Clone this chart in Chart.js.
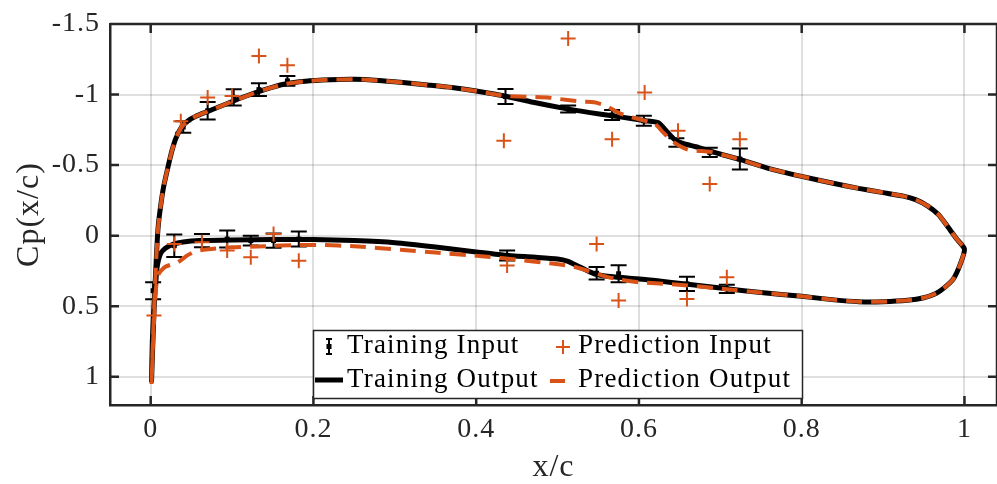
<!doctype html>
<html lang="en">
<head>
<meta charset="utf-8">
<title>Cp(x/c)</title>
<script src="https://cdn.jsdelivr.net/npm/chart.js"></script>
<style>
  html, body { margin: 0; padding: 0; background: #fff; }
</style>
</head>
<body>
<canvas id="cp_canvas" width="997" height="484"></canvas>
<script>
// axis ticks
const xTicks = [0, 0.2, 0.4, 0.6, 0.8, 1];
const xTickLabels = ['0', '0.2', '0.4', '0.6', '0.8', '1'];
const yTicks = [-1.5, -1, -0.5, 0, 0.5, 1];
const yTickLabels = ['-1.5', '-1', '-0.5', '0', '0.5', '1'];

// training output: leading edge -> upper surface -> trailing edge -> lower surface -> leading edge
const trainOutX = [0.001, 0.003, 0.005, 0.007, 0.009, 0.012, 0.016, 0.021, 0.026, 0.031, 0.038, 0.046, 0.055, 0.07, 0.085,
  0.102, 0.12, 0.14, 0.165, 0.19, 0.22, 0.25, 0.28, 0.31, 0.34, 0.37, 0.4, 0.435, 0.47, 0.51, 0.54, 0.567, 0.59, 0.607,
  0.624, 0.634, 0.644, 0.656, 0.67, 0.687, 0.705, 0.724, 0.76, 0.8, 0.84, 0.87, 0.9, 0.925, 0.94, 0.955, 0.968, 0.98, 0.99, 1.0,
  0.995, 0.986, 0.975, 0.965, 0.95, 0.93, 0.9, 0.87, 0.84, 0.8, 0.75, 0.708, 0.66, 0.62, 0.597, 0.565, 0.545, 0.527, 0.512,
  0.5, 0.47, 0.435, 0.4, 0.35, 0.3, 0.25, 0.2, 0.15, 0.1, 0.06, 0.04, 0.028, 0.018, 0.012, 0.008, 0.006, 0.004, 0.002, 0.001];
const trainOutCp = [1.04, 0.7, 0.4, 0.15, -0.05, -0.2, -0.35, -0.48, -0.6, -0.69, -0.77, -0.815, -0.845, -0.88, -0.915,
  -0.955, -0.995, -1.035, -1.075, -1.095, -1.105, -1.108, -1.1, -1.085, -1.068, -1.05, -1.025, -0.99, -0.945, -0.9, -0.872, -0.85, -0.83, -0.815,
  -0.8, -0.74, -0.68, -0.65, -0.63, -0.6, -0.57, -0.54, -0.475, -0.42, -0.37, -0.335, -0.305, -0.28, -0.255, -0.21, -0.15, -0.06, 0.02, 0.095,
  0.2, 0.31, 0.37, 0.41, 0.44, 0.458, 0.468, 0.468, 0.455, 0.43, 0.403, 0.376, 0.345, 0.318, 0.306, 0.29, 0.27, 0.22, 0.18,
  0.165, 0.152, 0.138, 0.115, 0.08, 0.05, 0.035, 0.027, 0.027, 0.03, 0.035, 0.045, 0.06, 0.09, 0.13, 0.22, 0.35, 0.5, 0.75, 1.04];

// prediction output, same ordering
const predOutX = [0.001, 0.003, 0.005, 0.007, 0.009, 0.012, 0.016, 0.021, 0.026, 0.031, 0.038, 0.046, 0.055, 0.07, 0.085,
  0.102, 0.12, 0.14, 0.165, 0.19, 0.22, 0.25, 0.28, 0.31, 0.34, 0.37, 0.4, 0.435, 0.46, 0.49, 0.5, 0.53, 0.545, 0.56, 0.575,
  0.59, 0.607, 0.62, 0.63, 0.642, 0.66, 0.687, 0.705, 0.724, 0.76, 0.8, 0.84, 0.87, 0.9, 0.925, 0.94, 0.955, 0.968, 0.98, 0.99, 1.0,
  0.995, 0.986, 0.975, 0.965, 0.95, 0.93, 0.9, 0.87, 0.84, 0.8, 0.75, 0.708, 0.66, 0.62, 0.6, 0.575, 0.555, 0.535, 0.52, 0.503,
  0.49, 0.45, 0.41, 0.35, 0.307, 0.25, 0.21, 0.18, 0.14, 0.1, 0.065, 0.055, 0.045, 0.033, 0.018, 0.01, 0.007, 0.005, 0.003, 0.001];
const predOutCp = [1.05, 0.7, 0.4, 0.15, -0.05, -0.2, -0.35, -0.48, -0.6, -0.69, -0.77, -0.815, -0.845, -0.88, -0.915,
  -0.955, -0.995, -1.035, -1.075, -1.095, -1.105, -1.108, -1.1, -1.085, -1.068, -1.05, -1.025, -0.99, -0.985, -0.978, -0.97, -0.95, -0.945, -0.92, -0.87,
  -0.84, -0.815, -0.79, -0.73, -0.665, -0.61, -0.595, -0.57, -0.54, -0.475, -0.42, -0.37, -0.335, -0.305, -0.28, -0.255, -0.21, -0.15, -0.06, 0.02, 0.095,
  0.2, 0.31, 0.37, 0.41, 0.44, 0.458, 0.468, 0.468, 0.455, 0.43, 0.403, 0.38, 0.353, 0.337, 0.33, 0.31, 0.283, 0.245, 0.22, 0.205,
  0.195, 0.17, 0.147, 0.12, 0.1, 0.075, 0.066, 0.066, 0.075, 0.082, 0.1, 0.11, 0.14, 0.19, 0.22, 0.27, 0.35, 0.5, 0.75, 1.05];

// training input with error half-widths
const trainInX = [0.04, 0.07, 0.102, 0.133, 0.168, 0.436, 0.513, 0.567, 0.606, 0.646, 0.687, 0.724,
  0.003, 0.029, 0.063, 0.094, 0.123, 0.151, 0.182, 0.438, 0.548, 0.575, 0.659, 0.708];
const trainInCp = [-0.77, -0.885, -0.98, -1.035, -1.097, -0.986, -0.897, -0.855, -0.814, -0.66, -0.59, -0.543,
  0.39, 0.071, 0.035, 0.024, 0.035, 0.035, 0.024, 0.141, 0.266, 0.27, 0.342, 0.377];
const trainInErr = [0.04, 0.062, 0.058, 0.045, 0.035, 0.053, 0.025, 0.035, 0.035, 0.03, 0.033, 0.074,
  0.06, 0.08, 0.047, 0.06, 0.035, 0.05, 0.053, 0.035, 0.044, 0.06, 0.05, 0.03];

// prediction input
const predInX = [0.037, 0.07, 0.1, 0.133, 0.168, 0.434, 0.513, 0.567, 0.607, 0.648, 0.687, 0.724,
  0.004, 0.029, 0.063, 0.094, 0.123, 0.151, 0.182, 0.438, 0.548, 0.575, 0.659, 0.708];
const predInCp = [-0.81, -0.98, -0.99, -1.274, -1.208, -0.672, -1.397, -0.684, -1.015, -0.743, -0.366, -0.684,
  0.566, 0.059, 0.047, 0.106, 0.153, -0.012, 0.177, 0.212, 0.059, 0.46, 0.448, 0.294];

const AXIS = '#262626';
const ORANGE = '#D95319';
const FONT = '"Liberation Serif", "Times New Roman", serif';

const pts = (xs, ys) => xs.map((x, i) => ({x: x, y: ys[i]}));

// letter spacing closer to the LaTeX look
const spacing = {
  id: 'spacing',
  beforeUpdate(chart) { chart.ctx.letterSpacing = '1px'; },
  beforeDraw(chart) { chart.ctx.letterSpacing = '1px'; }
};

// closed box with inward ticks
const frame = {
  id: 'frame',
  beforeDatasetsDraw(chart) {
    const {ctx, chartArea: a, scales: {x, y}} = chart;
    ctx.save();
    ctx.strokeStyle = AXIS;
    ctx.lineWidth = 2.5;
    ctx.beginPath();
    ctx.moveTo(a.left, a.top); ctx.lineTo(a.right, a.top);
    ctx.moveTo(a.right, a.top); ctx.lineTo(a.right, a.bottom);
    for (const v of xTicks) {
      const px = x.getPixelForValue(v);
      ctx.moveTo(px, a.bottom); ctx.lineTo(px, a.bottom - 9);
      ctx.moveTo(px, a.top); ctx.lineTo(px, a.top + 9);
    }
    for (const v of yTicks) {
      const py = y.getPixelForValue(v);
      ctx.moveTo(a.left, py); ctx.lineTo(a.left + 9, py);
      ctx.moveTo(a.right, py); ctx.lineTo(a.right - 9, py);
    }
    ctx.stroke();
    ctx.restore();
  }
};

// vertical error bars on the training input
const errorBars = {
  id: 'errorBars',
  afterDatasetDraw(chart, args) {
    if (chart.data.datasets[args.index].label !== 'Training Input') return;
    const {ctx, scales: {x, y}} = chart;
    ctx.save();
    ctx.strokeStyle = '#000';
    ctx.lineWidth = 2;
    ctx.beginPath();
    trainInX.forEach((xv, i) => {
      const px = x.getPixelForValue(xv);
      const y0 = y.getPixelForValue(trainInCp[i] - trainInErr[i]);
      const y1 = y.getPixelForValue(trainInCp[i] + trainInErr[i]);
      ctx.moveTo(px, y0); ctx.lineTo(px, y1);
      ctx.moveTo(px - 8, y0); ctx.lineTo(px + 8, y0);
      ctx.moveTo(px - 8, y1); ctx.lineTo(px + 8, y1);
    });
    ctx.stroke();
    ctx.restore();
  }
};

// two-column legend at the bottom of the axes
const legendBox = {
  id: 'legendBox',
  afterDraw(chart) {
    const {ctx, chartArea: a} = chart;
    const w = 489, h = 68;
    const left = Math.round((a.left + a.right) / 2 - w / 2 + 4);
    const top = Math.round(a.bottom - 7 - h);
    ctx.save();
    ctx.fillStyle = '#fff';
    ctx.fillRect(left, top, w, h);
    ctx.strokeStyle = AXIS;
    ctx.lineWidth = 1.5;
    ctx.strokeRect(left + 0.5, top + 0.5, w, h);

    // training input icon
    ctx.strokeStyle = '#000';
    ctx.lineWidth = 2;
    ctx.beginPath();
    const ix = left + 16;
    ctx.moveTo(ix, top + 9); ctx.lineTo(ix, top + 24);
    ctx.moveTo(ix - 3, top + 9); ctx.lineTo(ix + 3, top + 9);
    ctx.moveTo(ix - 3, top + 24); ctx.lineTo(ix + 3, top + 24);
    ctx.stroke();
    ctx.fillStyle = '#000';
    ctx.fillRect(ix - 2.5, top + 14, 5, 5);

    // prediction input icon
    ctx.strokeStyle = ORANGE;
    ctx.beginPath();
    const px = left + 250, py = top + 17;
    ctx.moveTo(px - 7, py); ctx.lineTo(px + 7, py);
    ctx.moveTo(px, py - 7); ctx.lineTo(px, py + 7);
    ctx.stroke();

    // output line icons
    ctx.lineWidth = 5;
    ctx.strokeStyle = '#000';
    ctx.beginPath();
    ctx.moveTo(left + 2, top + 50); ctx.lineTo(left + 30, top + 50);
    ctx.stroke();
    ctx.lineWidth = 4;
    ctx.strokeStyle = ORANGE;
    ctx.beginPath();
    ctx.moveTo(left + 237, top + 51); ctx.lineTo(left + 252, top + 51);
    ctx.stroke();

    ctx.fillStyle = '#000';
    ctx.font = '27px ' + FONT;
    ctx.letterSpacing = '1.2px';
    ctx.textBaseline = 'alphabetic';
    ctx.textAlign = 'left';
    ctx.fillText('Training Input', left + 34, top + 23);
    ctx.fillText('Prediction Input', left + 265, top + 23);
    ctx.fillText('Training Output', left + 34, top + 57);
    ctx.fillText('Prediction Output', left + 265, top + 57);
    ctx.restore();
  }
};

new Chart(document.getElementById('cp_canvas'), {
  type: 'scatter',
  data: {
    datasets: [
      {
        label: 'Prediction Output',
        data: pts(predOutX, predOutCp),
        showLine: true,
        borderColor: ORANGE,
        borderWidth: 4,
        borderDash: [16, 9],
        tension: 0.2,
        pointRadius: 0
      },
      {
        label: 'Prediction Input',
        data: pts(predInX, predInCp),
        pointStyle: 'cross',
        pointRadius: 7.5,
        borderColor: ORANGE,
        borderWidth: 2
      },
      {
        label: 'Training Output',
        data: pts(trainOutX, trainOutCp),
        showLine: true,
        borderColor: '#000',
        borderWidth: 5,
        borderJoinStyle: 'round',
        tension: 0.2,
        pointRadius: 0
      },
      {
        label: 'Training Input',
        data: pts(trainInX, trainInCp),
        pointStyle: 'rect',
        pointRadius: 3.5,
        backgroundColor: '#000',
        borderColor: '#000',
        borderWidth: 0
      }
    ]
  },
  options: {
    responsive: false,
    animation: false,
    events: [],
    layout: {autoPadding: false, padding: {left: 0, top: 24, right: 0, bottom: 0}},
    plugins: {
      legend: {display: false},
      tooltip: {enabled: false}
    },
    scales: {
      x: {
        type: 'linear',
        min: -0.05,
        max: 1.04,
        afterBuildTicks: (scale) => { scale.ticks = xTicks.map(v => ({value: v})); },
        afterFit: (scale) => {
          scale.height = 79;
          scale.paddingLeft = 0;
          scale.paddingRight = 0;
        },
        grid: {color: 'rgba(38,38,38,0.15)', lineWidth: 2, drawTicks: false},
        border: {display: true, color: AXIS, width: 2.5},
        ticks: {
          color: AXIS,
          font: {family: FONT, size: 28},
          padding: 8,
          maxRotation: 0,
          autoSkip: false,
          callback: (v) => xTickLabels[xTicks.indexOf(v)]
        },
        title: {
          display: true,
          text: 'x/c',
          color: AXIS,
          font: {family: FONT, size: 32},
          padding: {top: 0, bottom: -3}
        }
      },
      y: {
        type: 'linear',
        reverse: true,
        min: -1.5,
        max: 1.2,
        afterBuildTicks: (scale) => { scale.ticks = yTicks.map(v => ({value: v})); },
        afterFit: (scale) => {
          scale.width = 110;
          scale.paddingTop = 0;
          scale.paddingBottom = 0;
        },
        grid: {color: 'rgba(38,38,38,0.15)', lineWidth: 2, drawTicks: false},
        border: {display: true, color: AXIS, width: 2.5},
        ticks: {
          color: AXIS,
          font: {family: FONT, size: 28},
          padding: 10,
          autoSkip: false,
          callback: (v) => yTickLabels[yTicks.indexOf(v)]
        },
        title: {
          display: true,
          text: 'Cp(x/c)',
          color: AXIS,
          font: {family: FONT, size: 32},
          padding: {top: 10, bottom: 0}
        }
      }
    }
  },
  plugins: [spacing, frame, errorBars, legendBox]
});
</script>
</body>
</html>
